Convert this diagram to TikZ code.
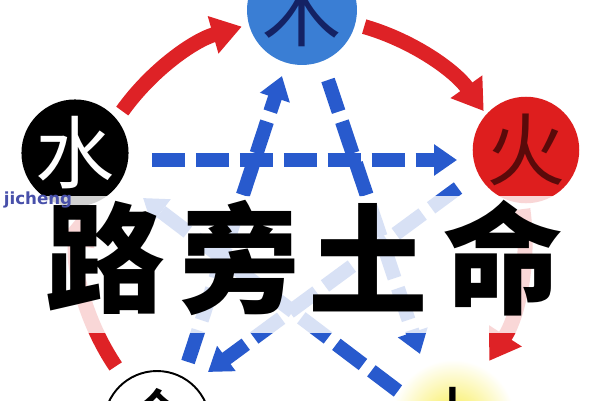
\documentclass[tikz,border=0pt]{standalone}
\usepackage{fontspec}
\newfontfamily\cjk{Noto Sans CJK SC}
\newfontfamily\jcfont{DejaVu Sans}
\usetikzlibrary{arrows.meta}
\definecolor{redc}{RGB}{222,34,38}
\definecolor{bluec}{RGB}{40,90,205}
\definecolor{mublue}{RGB}{58,126,212}
\definecolor{huored}{RGB}{222,30,30}
\definecolor{navyc}{RGB}{20,34,100}
\definecolor{maroonc}{RGB}{90,10,10}
\definecolor{jcc}{RGB}{72,80,170}
\definecolor{ylw}{RGB}{248,236,70}
\begin{document}
\begin{tikzpicture}[x=0.02cm,y=0.02cm,
  redarr/.style={draw=redc, line width=8.5pt, -{Triangle[length=17pt,width=21pt]}},
  bluearr/.style={draw=bluec, line width=8pt, dash pattern=on 19pt off 6pt, -{Triangle[length=13pt,width=17pt]}},
  elem/.style={circle, inner sep=0pt, font=\cjk\fontsize{45}{45}\selectfont},
  titlech/.style={inner sep=0pt, font=\cjk\bfseries\fontsize{68}{68}\selectfont}]
\useasboundingbox (0,0) rectangle (600,400);
\clip (0,0) rectangle (600,400);
\fill[white] (0,0) rectangle (600,400);
% centre of the cycle
\coordinate (C) at (303,160);
% generating cycle (red)
\draw[redarr] ([shift={(144.5:222)}]C) arc[start angle=144.5, end angle=106, radius=222];
\draw[redarr] ([shift={(74:222)}]C) arc[start angle=74, end angle=35.5, radius=222];
\draw[redarr] ([shift={(8:222)}]C) arc[start angle=8, end angle=-33, radius=222];
\draw[redarr] ([shift={(-60:222)}]C) arc[start angle=-60, end angle=-118, radius=222];
\draw[redarr] ([shift={(214:226)}]C) arc[start angle=214, end angle=174, radius=226];
% controlling cycle (blue)
\coordinate (s1) at (152,240); \coordinate (e1) at (457,240);
\coordinate (s2) at (188,38);  \coordinate (e2) at (282,324);
\coordinate (s3) at (328,320); \coordinate (e3) at (420,46);
\coordinate (s4) at (398,9);   \coordinate (e4) at (143,202);
\coordinate (s5) at (458,212); \coordinate (e5) at (208,28);
\draw[bluearr] (s1) -- (e1);
\draw[bluearr] (s2) -- (e2);
\draw[bluearr] (s3) -- (e3);
\draw[bluearr] (s4) -- (e4);
\draw[bluearr] (s5) -- (e5);
% elements
\node[elem, fill=mublue, minimum size=2.2cm, text=navyc] (mu) at (302,390) {木};
\node[elem, fill=huored, minimum size=2.12cm, text=maroonc] (huo) at (526,250) {火};
\node[elem, fill=black, minimum size=2.12cm, text=white] (shui) at (75,247) {水};
\node[elem, draw=black, line width=1.1pt, fill=white, minimum size=2.08cm, text=black] (jin) at (157,-24) {金};
\node[elem, shade, inner color=ylw, outer color=white, minimum size=2.5cm, text=black] (tu) at (453,-22) {土};
% translucent band
\fill[white, opacity=0.82] (0,67) rectangle (600,204);
% title
\node[titlech] (t1) at (105,142) {路};
\node[titlech] (t2) at (240,142) {旁};
\node[titlech] (t3) at (368,142) {土};
\node[titlech] (t4) at (503,142) {命};
% watermark
\node[inner sep=0pt, font=\jcfont\bfseries\fontsize{9.5}{9.5}\selectfont, text=jcc] (jc) at (38,200) {jicheng};
\end{tikzpicture}
\end{document}
